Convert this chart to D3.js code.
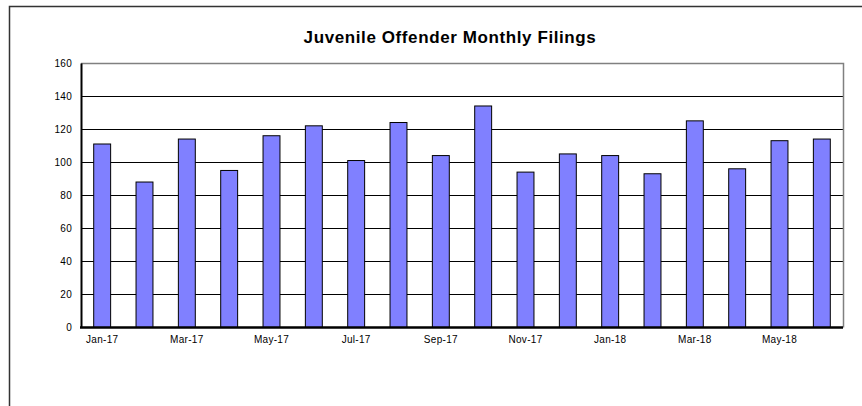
<!DOCTYPE html>
<html>
<head>
<meta charset="UTF-8">
<style>
  body { margin: 0; background: #fff; }
  text { font-family: "Liberation Sans", Arial, sans-serif; }
  .tick text { font-size: 10px; fill: #000; letter-spacing: 0.3px; }
</style>
</head>
<body>
<script src="https://d3js.org/d3.v7.min.js"></script>
<script>
var months = ['Jan-17','Feb-17','Mar-17','Apr-17','May-17','Jun-17','Jul-17','Aug-17','Sep-17',
              'Oct-17','Nov-17','Dec-17','Jan-18','Feb-18','Mar-18','Apr-18','May-18','Jun-18'];
var filings = [111, 88, 114, 95, 116, 122, 101, 124, 104, 134, 94, 105, 104, 93, 125, 96, 113, 114];
var yTicks = [0, 20, 40, 60, 80, 100, 120, 140, 160];

var W = 862, H = 406;
var svg = d3.select('body').append('svg').attr('width', W).attr('height', H);

// outer frame (runs off the right and bottom)
svg.append('path')
    .attr('d', 'M9.5,' + (H + 2) + 'V6.5H' + (W + 2))
    .attr('fill', 'none').attr('stroke', '#333').attr('stroke-width', 1.5);

svg.append('text')
    .attr('x', 450).attr('y', 43)
    .attr('text-anchor', 'middle')
    .style('font-size', '17px').style('font-weight', 'bold').style('letter-spacing', '0.6px')
    .text('Juvenile Offender Monthly Filings');

var pLeft = 81, pRight = 843, pTop = 63, pBottom = 327.5;

var x = d3.scaleBand().domain(months).range([pLeft, pRight]).paddingInner(0.6).paddingOuter(0.3);
var y = d3.scaleLinear().domain([0, 160]).range([pBottom, pTop]);

// grid lines
svg.append('g').selectAll('line')
    .data(yTicks.filter(function(d){ return d > 0 && d < 160; }))
    .enter().append('line')
    .attr('x1', pLeft).attr('x2', pRight)
    .attr('y1', function(d){ return Math.round(y(d)) + 0.5; })
    .attr('y2', function(d){ return Math.round(y(d)) + 0.5; })
    .attr('stroke', '#000').attr('stroke-width', 1);

// plot border top/right in grey
svg.append('path')
    .attr('d', 'M' + pLeft + ',' + (pTop + 0.5) + 'H' + (pRight + 0.5) + 'V' + pBottom)
    .attr('fill', 'none').attr('stroke', '#808080').attr('stroke-width', 1.5);

svg.append('g').selectAll('rect')
    .data(filings)
    .enter().append('rect')
    .attr('x', function(d, i){ return x(months[i]); })
    .attr('width', x.bandwidth())
    .attr('y', function(d){ return y(d); })
    .attr('height', function(d){ return pBottom - y(d); })
    .attr('fill', '#8080ff')
    .attr('stroke', '#000').attr('stroke-width', 1);

var yAxis = svg.append('g')
    .attr('transform', 'translate(' + pLeft + ',0)')
    .call(d3.axisLeft(y).tickValues(yTicks).tickSize(0).tickPadding(9));
yAxis.select('.domain').attr('stroke', '#000').attr('stroke-width', 2);

var xAxis = svg.append('g')
    .attr('transform', 'translate(0,' + pBottom + ')')
    .call(d3.axisBottom(x).tickValues(months.filter(function(d, i){ return i % 2 === 0; }))
        .tickSize(0).tickPadding(8).tickSizeOuter(0));
xAxis.select('.domain').attr('d', 'M' + (pLeft - 1) + ',0H' + pRight)
    .attr('stroke', '#000').attr('stroke-width', 2.5);
xAxis.selectAll('text').attr('dy', '0.71em');
</script>
</body>
</html>
